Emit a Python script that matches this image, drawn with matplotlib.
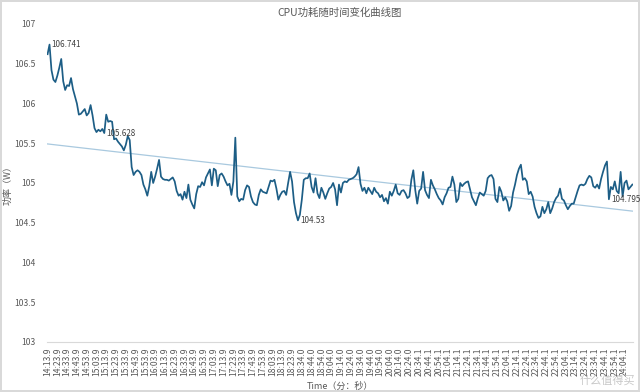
import numpy as np
import matplotlib
matplotlib.use("Agg")
import matplotlib.pyplot as plt

plt.rcParams['font.family'] = ['Noto Sans CJK SC', 'DejaVu Sans']

# CPU power (W), one reading every ~2 s
power = [
    106.62, 106.741, 106.42, 106.30, 106.27, 106.35, 106.45, 106.56, 106.28, 106.17,
    106.23, 106.22, 106.32, 106.18, 106.09, 106.00, 105.86, 105.87, 105.90, 105.93,
    105.85, 105.88, 105.98, 105.85, 105.69, 105.64, 105.67, 105.65, 105.68, 105.628,
    105.86, 105.77, 105.78, 105.77, 105.55, 105.56, 105.52, 105.49, 105.46, 105.41,
    105.48, 105.59, 105.54, 105.20, 105.10, 105.14, 105.16, 105.14, 105.10, 104.98,
    104.92, 104.84, 104.96, 105.14, 105.00, 105.08, 105.18, 105.29, 105.08, 105.05,
    105.04, 105.04, 105.03, 105.05, 105.07, 105.02, 104.90, 104.84, 104.86, 104.79,
    104.89, 104.81, 104.98, 104.79, 104.73, 104.68, 104.86, 104.96, 104.95, 105.01,
    104.97, 105.07, 105.12, 105.17, 104.97, 105.18, 105.16, 104.96, 105.10, 105.12,
    105.08, 105.02, 104.97, 104.99, 104.85, 105.02, 105.57, 104.83, 104.77, 104.80,
    104.79, 104.91, 104.97, 104.95, 104.83, 104.76, 104.73, 104.72, 104.85, 104.92,
    104.89, 104.88, 104.87, 104.95, 105.03, 105.02, 105.04, 104.93, 104.79, 104.85,
    104.89, 104.90, 104.85, 105.00, 105.14, 105.02, 104.76, 104.62, 104.53, 104.60,
    104.79, 105.04, 105.06, 105.06, 105.12, 104.95, 104.88, 105.06, 104.87, 104.81,
    104.94, 104.88, 104.80, 104.87, 104.93, 104.95, 105.00, 104.92, 104.72, 104.98,
    104.88, 105.00, 105.02, 105.01, 105.04, 105.05, 105.06, 105.08, 105.11, 105.20,
    104.99, 104.90, 104.94, 104.87, 104.94, 104.90, 104.86, 104.94, 104.89, 104.87,
    104.82, 104.85, 104.77, 104.81, 104.74, 104.89, 104.84, 104.90, 104.98, 104.87,
    104.85, 104.90, 104.91, 104.87, 104.81, 104.83, 105.04, 105.16, 104.91, 104.74,
    104.90, 104.93, 105.14, 104.91, 104.85, 104.81, 105.04, 104.97, 104.92, 104.86,
    104.81, 104.78, 104.73, 104.82, 104.87, 104.94, 104.95, 105.08, 104.98, 104.76,
    104.80, 105.00, 104.96, 104.99, 105.01, 105.02, 104.92, 104.82, 104.77, 104.72,
    104.81, 104.88, 104.86, 104.84, 104.90, 105.06, 105.09, 105.10, 105.05, 104.80,
    104.76, 104.95, 104.89, 104.78, 104.82, 104.77, 104.65, 104.71, 104.88, 104.98,
    105.10, 105.18, 105.23, 105.04, 105.06, 105.02, 104.86, 104.89, 104.83, 104.70,
    104.62, 104.56, 104.58, 104.70, 104.62, 104.67, 104.76, 104.62, 104.68, 104.76,
    104.81, 104.84, 104.93, 104.80, 104.78, 104.72, 104.67, 104.71, 104.74, 104.74,
    104.82, 104.90, 104.97, 104.98, 104.97, 104.99, 105.05, 105.09, 105.07, 104.96,
    104.94, 104.98, 104.93, 105.05, 105.14, 105.22, 105.27, 104.795, 104.95, 104.92,
    105.02, 104.90, 104.87, 105.14, 104.83, 105.00, 105.03, 104.92, 104.95, 104.98,
]

time_labels = [
    "14:13.9", "14:23.9", "14:33.9", "14:43.9", "14:53.9", "15:03.9", "15:13.9", "15:23.9",
    "15:33.9", "15:43.9", "15:53.9", "16:03.9", "16:13.9", "16:23.9", "16:33.9", "16:43.9",
    "16:53.9", "17:03.9", "17:13.9", "17:23.9", "17:33.9", "17:43.9", "17:53.9", "18:03.9",
    "18:13.9", "18:23.9", "18:34.0", "18:44.0", "18:54.0", "19:04.0", "19:14.0", "19:24.0",
    "19:34.0", "19:44.0", "19:54.0", "20:04.0", "20:14.0", "20:24.0", "20:34.1", "20:44.1",
    "20:54.1", "21:04.1", "21:14.1", "21:24.1", "21:34.1", "21:44.1", "21:54.1", "22:04.1",
    "22:14.1", "22:24.1", "22:34.1", "22:44.1", "22:54.1", "23:04.1", "23:14.1", "23:24.1",
    "23:34.1", "23:44.1", "23:54.1", "24:04.1",
]
label_every = 5
labelled_idx = [1, 29, 128, 287]

x = np.arange(len(power))
y = np.array(power)

fig = plt.figure(figsize=(6.4, 3.92), dpi=100)
fig.patch.set_edgecolor('#d9d9d9')
fig.patch.set_linewidth(1.5)
ax = fig.add_axes([0.0734, 0.1276, 0.9156, 0.8112])

ax.plot(x, y, color='#1d5e86', linewidth=1.25, zorder=3)

# linear trend line
k, b = np.polyfit(x, y, 1)
ax.plot(x, k * x + b, color='#a9c9df', linewidth=0.9, zorder=2)

for i in labelled_idx:
    ax.annotate(f"{power[i]:g}", (x[i], y[i]), xytext=(1.5, 0), textcoords='offset points',
                ha='left', va='center', fontsize=5.8, color='#404040', zorder=4)

ax.set_xlim(-0.3, len(power) - 0.7)
ax.set_ylim(103, 107)
ax.set_yticks(np.arange(103, 107.01, 0.5))
ax.set_yticklabels([f"{v:g}" for v in np.arange(103, 107.01, 0.5)])
ax.set_xticks(x[::label_every][:len(time_labels)])
ax.set_xticklabels(time_labels, rotation=90)
ax.tick_params(axis='both', length=0, labelsize=6.2, colors='#595959')
ax.tick_params(axis='x', pad=4)
ax.tick_params(axis='y', pad=8)

for s in ['top', 'right', 'left']:
    ax.spines[s].set_visible(False)
ax.spines['bottom'].set_color('#d9d9d9')

ax.set_title("CPU功耗随时间变化曲线图", fontsize=7.5, color='#595959', pad=6)
ax.set_ylabel("功率（W）", fontsize=6.5, color='#595959')
ax.yaxis.set_label_coords(-0.058, 0.5)
ax.set_xlabel("Time（分：秒）", fontsize=6.5, color='#595959', labelpad=4)

fig.text(0.905, 0.03, "什么值得买", fontsize=8, color='#c8c8c8', ha='left', va='center')

fig.savefig("out.png", dpi=100)
